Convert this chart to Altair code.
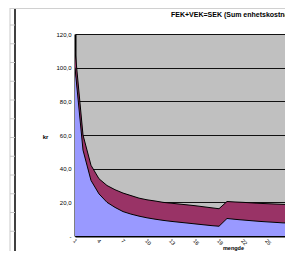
import altair as alt
import pandas as pd

# quantity (mengde)
mengde = list(range(1, 31))
# FEK per unit (blue, bottom layer)
fek = [100, 51, 33, 25, 20, 17, 14.5, 13, 11.8, 10.8, 10, 9.3, 8.7, 8.2, 7.7,
       7.2, 6.7, 6.2, 5.8, 10.4, 9.9, 9.5, 9.1, 8.7, 8.4, 8.1, 7.8, 7.6, 7.3, 7.1]
# VEK per unit (maroon band on top)
vek = [10.5, 9, 9, 9, 10, 10.5, 11, 11, 10.7, 10.7, 10.8, 10.7, 10.8, 10.8, 10.8,
       10.8, 10.7, 10.6, 10.4, 10.1, 10.3, 10.5, 10.6, 10.7, 10.8, 10.9, 11, 11, 11.1, 11.1]
x_ticks = [1, 4, 7, 10, 13, 16, 19, 22, 25, 28]
y_ticks = [0, 20, 40, 60, 80, 100, 120]
title_text = "FEK+VEK=SEK  (Sum enhetskostnad per enhet)"

df = pd.DataFrame({"mengde": mengde, "FEK": fek, "VEK": vek})
df["SEK"] = df["FEK"] + df["VEK"]

FONT = "Liberation Sans"
PH = 202
PW = 210
SVG_H = 243

xs = alt.Scale(domain=[1, 1 + PW / 8], nice=False, zero=False)
ys = alt.Scale(domain=[0, 120], nice=False)

x_axis = alt.Axis(
    values=x_ticks, title="mengde", grid=False, ticks=False, labelOverlap=False,
    domainColor="black", domainWidth=2, labelAngle=45, labelFontSize=5.5,
    labelColor="#000", labelPadding=2, labelFont=FONT,
    titleFont=FONT, titleFontSize=5.5, titleFontWeight="bold", titleColor="#000",
    titleX=158, titleY=11, titleBaseline="middle", titleAnchor="middle")
y_axis = alt.Axis(
    values=y_ticks, title="kr", grid=True, gridColor="#111", gridWidth=1,
    ticks=False, domainColor="black", domainWidth=2, labelFontSize=6,
    labelColor="#000", labelPadding=4, labelFont=FONT, labelOverlap=False,
    labelExpr="datum.value == 0 ? '-' : replace(format(datum.value, '.1f'), '.', ',')",
    titleFont=FONT, titleFontSize=6, titleFontWeight="bold", titleColor="#000",
    titleAngle=0, titleX=-30, titleY=102, titleBaseline="middle", titleAlign="center")


def X():
    return alt.X("mengde:Q", scale=xs, axis=x_axis)


def Y(field):
    return alt.Y(field, scale=ys, axis=y_axis)


base = alt.Chart(df)
blue = base.mark_area(color="#9999FF", clip=True).encode(
    x=X(), y=Y("FEK:Q"), y2=alt.datum(0))
maroon = base.mark_area(color="#993366", clip=True).encode(
    x=X(), y=Y("SEK:Q"), y2="FEK:Q")
line_fek = base.mark_line(color="black", strokeWidth=1, clip=True).encode(
    x=X(), y=Y("FEK:Q"))
line_sek = base.mark_line(color="black", strokeWidth=1, clip=True).encode(
    x=X(), y=Y("SEK:Q"))

dummy = alt.Chart(pd.DataFrame({"a": [0]}))
title = dummy.mark_text(text=title_text, font=FONT, fontSize=7, fontWeight="bold",
                        align="left", baseline="middle", color="#000").encode(
    x=alt.value(96), y=alt.value(-19))

deco = [
    dummy.mark_rule(color="#c8c8c8", strokeWidth=1).encode(
        x=alt.value(-65), y=alt.value(-26), y2=alt.value(225)),
    dummy.mark_rule(color="black", strokeWidth=1.5).encode(
        x=alt.value(-60), y=alt.value(-26), y2=alt.value(225)),
    dummy.mark_rule(color="#d0d0d0", strokeWidth=1).encode(
        x=alt.value(-65), x2=alt.value(PW), y=alt.value(-25.5)),
]
for i in range(12):
    py = 25 + i * 18.75 - 34
    deco.append(dummy.mark_rule(color="#c8c8c8", strokeWidth=1).encode(
        x=alt.value(-65), x2=alt.value(-60), y=alt.value(py)))

chart = alt.layer(blue, maroon, line_fek, line_sek, title, *deco).properties(
    width=PW, height=PH,
    autosize=alt.AutoSizeParams(type="none"),
    padding={"left": 67, "top": 26, "right": 0, "bottom": SVG_H - 26 - PH},
    background="white",
).configure_view(fill="#C0C0C0", stroke="#C0C0C0")

chart.save("out.html", embed_options={"renderer": "svg", "actions": False})
